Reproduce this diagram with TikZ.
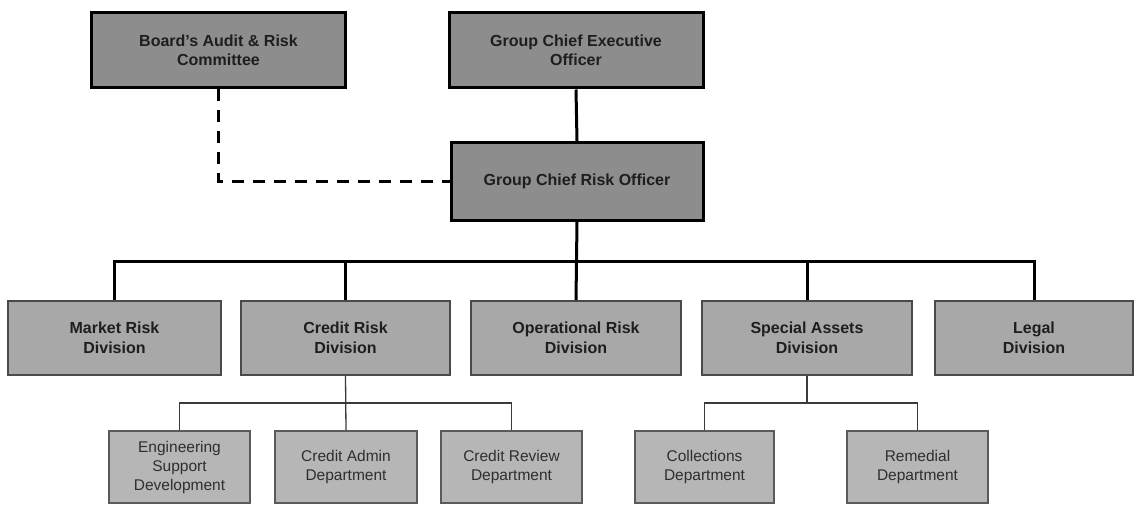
\documentclass[tikz,border=0pt]{standalone}
\usepackage{fontspec}
\setmainfont{Liberation Sans}
\begin{document}
\begin{tikzpicture}[x=1pt,y=-1pt,
  topbox/.style={draw=black,line width=3pt,fill=boxdark,text=textdark,font=\fontsize{16}{19.5}\selectfont\bfseries,align=center,inner sep=0pt},
  divbox/.style={draw=bordermid,line width=1.6pt,fill=boxmid,text=textdark,font=\fontsize{16}{20}\selectfont\bfseries,align=center,inner sep=0pt,minimum height=74pt},
  depbox/.style={draw=borderlight,line width=1.3pt,fill=boxlight,text=textmid,font=\fontsize{15.5}{19}\selectfont,align=center,inner sep=0pt,minimum height=72pt},
  thick link/.style={draw=black,line width=3pt},
  thin link/.style={draw=linkgray,line width=1.3pt},
  dash link/.style={draw=black,line width=3pt,dash pattern=on 12pt off 9pt}]
\definecolor{boxdark}{HTML}{8D8D8D}
\definecolor{boxmid}{HTML}{A8A8A8}
\definecolor{boxlight}{HTML}{B6B6B6}
\definecolor{bordermid}{HTML}{4A4A4A}
\definecolor{borderlight}{HTML}{5A5A5A}
\definecolor{linkgray}{HTML}{3A3A3A}
\definecolor{textdark}{HTML}{1E1E1E}
\definecolor{textmid}{HTML}{2E2E2E}
\useasboundingbox[fill=white] (0,0) rectangle (1134,505);

% top row
\node[topbox,minimum width=254pt,minimum height=75pt] (board) at (218.5,50.5) {Board's Audit \& Risk\\Committee};
\node[topbox,minimum width=254pt,minimum height=75pt] (ceo) at (576,50.5) {Group Chief Executive\\Officer};
\node[topbox,minimum width=252pt,minimum height=77pt] (cro) at (577,181.5) {Group Chief Risk Officer};

% divisions
\node[divbox,minimum width=213pt] (market) at (114.5,338) {Market Risk\\Division};
\node[divbox,minimum width=209pt] (credit) at (345.5,338) {Credit Risk\\Division};
\node[divbox,minimum width=210pt] (oper) at (576,338) {Operational Risk\\Division};
\node[divbox,minimum width=210pt] (special) at (807,338) {Special Assets\\Division};
\node[divbox,minimum width=198pt] (legal) at (1034,338) {Legal\\Division};

% departments
\node[depbox,minimum width=141pt] (eng) at (179.5,467) {Engineering\\Support\\Development};
\node[depbox,minimum width=142pt] (admin) at (346,467) {Credit Admin\\Department};
\node[depbox,minimum width=141pt] (review) at (511.5,467) {Credit Review\\Department};
\node[depbox,minimum width=139pt] (collect) at (704.5,467) {Collections\\Department};
\node[depbox,minimum width=141pt] (remedial) at (917.5,467) {Remedial\\Department};

\coordinate (bus) at (0,261);
\coordinate (sub) at (0,403);

% connectors
\draw[thick link] (ceo.south) -- (cro.north);
\draw[dash link] (board.south) -- (board.south |- cro.west) -- (cro.west);
\draw[thick link] (cro.south) -- (oper.north);
\draw[thick link] (market.north) -- (market.north |- bus) -| (legal.north);
\draw[thick link] (credit.north) -- (credit.north |- bus);
\draw[thick link] (special.north) -- (special.north |- bus);

\draw[thin link] (credit.south) -- (admin.north);
\draw[thin link] (eng.north) -- (eng.north |- sub) -| (review.north);
\draw[thin link] (special.south) -- (special.south |- sub);
\draw[thin link] (collect.north) -- (collect.north |- sub) -| (remedial.north);
\end{tikzpicture}
\end{document}
